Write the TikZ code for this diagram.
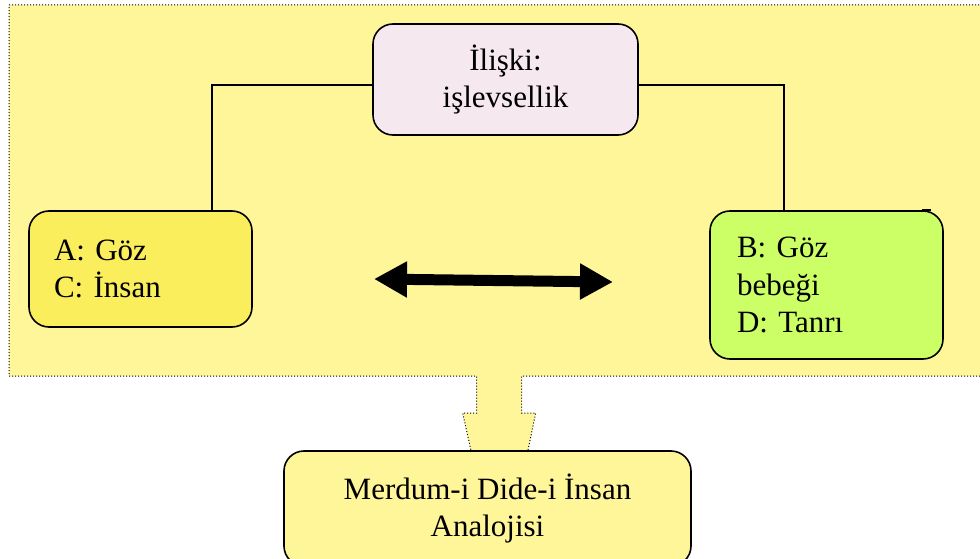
\documentclass[tikz,border=0pt]{standalone}
\usepackage{fontspec}
\setmainfont{Liberation Serif}
\usetikzlibrary{arrows.meta}
\frenchspacing
\definecolor{panelfill}{HTML}{FFF599}
\definecolor{leftfill}{HTML}{FBEE5C}
\definecolor{pinkfill}{HTML}{F5E8EE}
\definecolor{greenfill}{HTML}{CCFF66}
\tikzset{
  box/.style={draw=black, line width=1.6pt, rounded corners=20pt, inner sep=0pt,
    font=\fontsize{31}{37.5}\selectfont},
  panel/.style={fill=panelfill, draw=black, line width=1pt, dash pattern=on 1pt off 2pt},
  link/.style={draw=black, line width=1.3pt},
  bothways/.style={line width=11pt, black,
    {Triangle[length=33pt 0 0,width=34pt 0 0]}-{Triangle[length=33pt 0 0,width=34pt 0 0]}}
}
\begin{document}
\begin{tikzpicture}[x=1pt,y=-1pt]
\useasboundingbox (0,0) rectangle (980,559);
\clip (0,0) rectangle (980,559);
\fill[white] (0,0) rectangle (980,559);

% shaded panel with the block arrow pointing down
\path[panel] (9,5) -- (990,5) -- (990,376) -- (521.7,376) -- (521.7,413)
  -- (535.7,413) -- (525.5,462) -- (473.5,462) -- (462.7,413) -- (476.7,413)
  -- (476.7,376) -- (9,376) -- cycle;

% boxes
\node[box, fill=pinkfill, minimum width=265pt, minimum height=111pt, align=center]
  (rel) at (505.5,79.5) {İlişki:\\işlevsellik};
\node[box, fill=leftfill, minimum height=116pt, text width=173pt, inner xsep=25pt, align=left]
  (ac) at (140.5,269) {A: Göz\\C: İnsan};
\node[box, fill=greenfill, minimum height=148pt, text width=179pt, inner xsep=27pt, align=left]
  (bd) at (826.5,285) {B: Göz\\bebeği\\D: Tanrı};
\node[box, fill=panelfill, minimum width=407pt, minimum height=115pt, align=center]
  (res) at (487.5,508.5) {Merdum-i Dide-i İnsan\\Analojisi};

% small straight overhang on the green box's top edge
\draw[line width=1.6pt] ([xshift=-22pt]bd.north east) -- ([xshift=-13pt]bd.north east);

% connectors from the relation box
\draw[link] ([yshift=-5.5pt]rel.west) -| ([xshift=71.5pt]ac.north);
\draw[link] ([yshift=-5.5pt]rel.east) -| ([xshift=-42.5pt]bd.north);

% double-headed arrow between the pairs
\coordinate (pl) at (374,279);
\coordinate (pr) at (613,282);
\draw[bothways] (pl) -- (pr);
\end{tikzpicture}
\end{document}
